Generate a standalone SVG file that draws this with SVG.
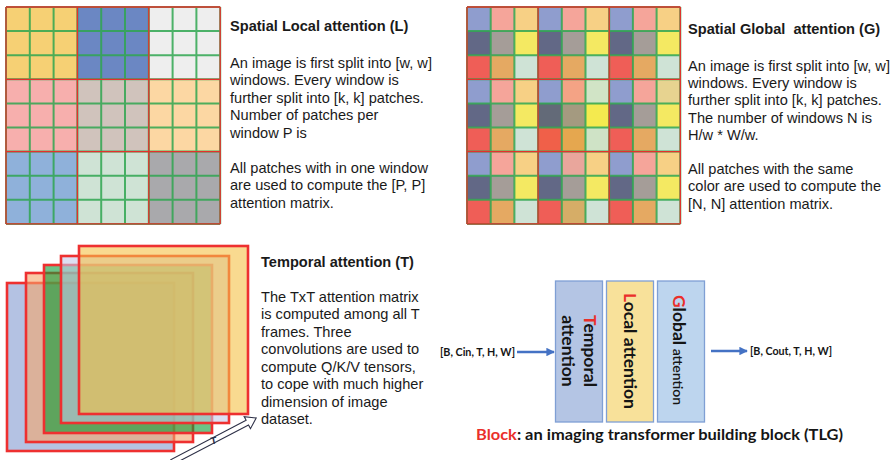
<svg xmlns="http://www.w3.org/2000/svg" xmlns:xlink="http://www.w3.org/1999/xlink" width="890" height="460" viewBox="0 0 890 460">
  <style>
    .t{font-family:"Liberation Sans",Arial,sans-serif;font-size:14.6px;fill:#1a1a1a}
    .h{font-weight:bold}
    .c{font-family:Lato,"Liberation Sans",sans-serif;font-weight:bold;fill:#151515}
    .red{fill:#ea2f2a}
    .cell{stroke:#2fa650;stroke-opacity:.85;stroke-width:2;fill:none}
    .win{stroke:#e4302c;stroke-width:1.3;fill:none}
    .frame{stroke:#ee3030;stroke-width:2.6}
    .box{stroke:#7f9fd4;stroke-width:1.3}
    .flow{stroke:#4472c4;stroke-width:2.5;fill:none}
  </style>
  <defs>
    <marker id="head" viewBox="0 0 10 10" refX="9" refY="5" markerWidth="3.4" markerHeight="3.4" orient="auto" markerUnits="strokeWidth">
      <path d="M0 0L10 5L0 10z" fill="#4472c4"/>
    </marker>
    <!-- one 3x3 window of the global grid, colour per patch position -->
    <g id="tile">
      <rect x="0" y="0" width="1" height="1" fill="#8f9dce"/>
      <rect x="1" y="0" width="1" height="1" fill="#f5a59a"/>
      <rect x="2" y="0" width="1" height="1" fill="#f7d085"/>
      <rect x="0" y="1" width="1" height="1" fill="#626886"/>
      <rect x="1" y="1" width="1" height="1" fill="#a59d98"/>
      <rect x="2" y="1" width="1" height="1" fill="#f4e962"/>
      <rect x="0" y="2" width="1" height="1" fill="#ef5e57"/>
      <rect x="1" y="2" width="1" height="1" fill="#e5a962"/>
      <rect x="2" y="2" width="1" height="1" fill="#cfe3d6"/>
    </g>
  </defs>

  <!-- spatial local attention grid -->
  <g id="local-grid">
    <g transform="translate(6,7) scale(23.8,24.1)">
      <rect x="0" y="0" width="3" height="3" fill="#f6d074"/>
      <rect x="3" y="0" width="3" height="3" fill="#6b87c3"/>
      <rect x="6" y="0" width="3" height="3" fill="#eeeeee"/>
      <rect x="0" y="3" width="3" height="3" fill="#f7afad"/>
      <rect x="3" y="3" width="3" height="3" fill="#d0c3bc"/>
      <rect x="6" y="3" width="3" height="3" fill="#fcd7a3"/>
      <rect x="0" y="6" width="3" height="3" fill="#8fb1da"/>
      <rect x="3" y="6" width="3" height="3" fill="#cfe3d5"/>
      <rect x="6" y="6" width="3" height="3" fill="#a9a9ac"/>
    </g>
    <path class="cell" d="M6 7H220.2M6 31.1H220.2M6 55.2H220.2M6 79.3H220.2M6 103.4H220.2M6 127.5H220.2M6 151.6H220.2M6 175.7H220.2M6 199.8H220.2M6 223.9H220.2M6 7V223.9M29.8 7V223.9M53.6 7V223.9M77.4 7V223.9M101.2 7V223.9M125 7V223.9M148.8 7V223.9M172.6 7V223.9M196.4 7V223.9M220.2 7V223.9"/>
    <path class="win" d="M6 7H220.2M6 79.3H220.2M6 151.6H220.2M6 223.9H220.2M6 7V223.9M77.4 7V223.9M148.8 7V223.9M220.2 7V223.9"/>
  </g>

  <g id="local-text" class="t">
    <text x="230" y="31" class="h">Spatial Local attention (L)</text>
    <text x="230" y="67.5">An image is first split into [w, w]</text>
    <text x="230" y="85">windows. Every window is</text>
    <text x="230" y="102.5">further split into [k, k] patches.</text>
    <text x="230" y="120">Number of patches per</text>
    <text x="230" y="137.5">window P is</text>
    <text x="230" y="172.5">All patches with in one window</text>
    <text x="230" y="190">are used to compute the [P, P]</text>
    <text x="230" y="207.5">attention matrix.</text>
  </g>

  <!-- spatial global attention grid -->
  <g id="global-grid">
    <g transform="translate(467,7) scale(23.7,24.1)">
      <use xlink:href="#tile"/>
      <use xlink:href="#tile" x="3"/>
      <use xlink:href="#tile" x="6"/>
      <use xlink:href="#tile" y="3"/>
      <use xlink:href="#tile" x="3" y="3"/>
      <use xlink:href="#tile" x="6" y="3"/>
      <use xlink:href="#tile" y="6"/>
      <use xlink:href="#tile" x="3" y="6"/>
      <use xlink:href="#tile" x="6" y="6"/>
      <rect x="4" y="3" width="1" height="1" fill="#f4a385"/>
      <rect x="5" y="3" width="1" height="1" fill="#d1e4c6"/>
      <rect x="3" y="4" width="1" height="1" fill="#636a78"/>
      <rect x="4" y="4" width="1" height="1" fill="#a49a80"/>
      <rect x="5" y="4" width="1" height="1" fill="#f4ea4f"/>
      <rect x="3" y="5" width="1" height="1" fill="#f06049"/>
      <rect x="4" y="5" width="1" height="1" fill="#e5a74f"/>
      <rect x="5" y="5" width="1" height="1" fill="#cfe3c6"/>
      <rect x="8" y="3" width="1" height="1" fill="#e7d390"/>
      <rect x="4" y="6" width="1" height="1" fill="#e9a69c"/>
      <rect x="4" y="8" width="1" height="1" fill="#d6ad67"/>
    </g>
    <path class="cell" d="M467 7H680.3M467 31.1H680.3M467 55.2H680.3M467 79.3H680.3M467 103.4H680.3M467 127.5H680.3M467 151.6H680.3M467 175.7H680.3M467 199.8H680.3M467 223.9H680.3M467 7V223.9M490.7 7V223.9M514.4 7V223.9M538.1 7V223.9M561.8 7V223.9M585.5 7V223.9M609.2 7V223.9M632.9 7V223.9M656.6 7V223.9M680.3 7V223.9"/>
    <path class="win" d="M467 7H680.3M467 79.3H680.3M467 151.6H680.3M467 223.9H680.3M467 7V223.9M538.1 7V223.9M609.2 7V223.9M680.3 7V223.9"/>
  </g>

  <g id="global-text" class="t">
    <text x="688" y="34" class="h" xml:space="preserve">Spatial Global  attention (G)</text>
    <text x="688" y="71">An image is first split into [w, w]</text>
    <text x="688" y="88.2">windows. Every window is</text>
    <text x="688" y="105.4">further split into [k, k] patches.</text>
    <text x="688" y="122.6">The number of windows N is</text>
    <text x="688" y="139.8">H/w * W/w.</text>
    <text x="688" y="174.2">All patches with the same</text>
    <text x="688" y="191.4">color are used to compute the</text>
    <text x="688" y="208.6">[N, N] attention matrix.</text>
  </g>

  <!-- stack of T frames -->
  <g id="frames" class="frame">
    <rect x="7" y="283" width="167" height="168" fill="#b4c2e3"/>
    <rect x="26" y="273" width="167" height="169" fill="rgb(245,165,105)" fill-opacity=".6"/>
    <rect x="44" y="265" width="168" height="168" fill="rgb(10,155,53)" fill-opacity=".6"/>
    <rect x="61" y="256" width="168" height="167" fill="rgb(197,202,233)" fill-opacity=".6"/>
    <rect x="79" y="246" width="169" height="168" fill="rgb(245,193,70)" fill-opacity=".6"/>
  </g>
  <g id="time-axis">
    <polygon transform="translate(172,462) rotate(-27.6)" points="0,-2.6 85,-2.6 85,-6.8 95,0 85,6.8 85,2.6 0,2.6" fill="#fff" stroke="#2d3047" stroke-width="1.1"/>
    <text x="213.5" y="444" transform="rotate(-10 213.5 440)" text-anchor="middle" font-family="Liberation Sans,Arial,sans-serif" font-size="10" font-weight="bold" fill="#2d3047">T</text>
  </g>

  <g id="temporal-text" class="t">
    <text x="261" y="266.5" class="h">Temporal attention (T)</text>
    <text x="261" y="301.5">The TxT attention matrix</text>
    <text x="261" y="319">is computed among all T</text>
    <text x="261" y="336.5">frames. Three</text>
    <text x="261" y="354">convolutions are used to</text>
    <text x="261" y="371.5">compute Q/K/V tensors,</text>
    <text x="261" y="389">to cope with much higher</text>
    <text x="261" y="406.5">dimension of image</text>
    <text x="261" y="424">dataset.</text>
  </g>

  <!-- TLG block -->
  <g id="block-temporal">
    <rect class="box" x="555.5" y="281" width="47" height="141" fill="#b4c5e4"/>
    <text class="c" font-size="17.5" text-anchor="middle" transform="translate(584,351) rotate(90)"><tspan class="red">T</tspan>emporal</text>
    <text class="c" font-size="17.5" text-anchor="middle" transform="translate(562,351) rotate(90)">attention</text>
  </g>
  <g id="block-local">
    <rect class="box" x="606.5" y="281" width="47" height="141" fill="#f8e19a"/>
    <text class="c" font-size="17.5" text-anchor="middle" transform="translate(623.5,351) rotate(90)"><tspan class="red">L</tspan>ocal attention</text>
  </g>
  <g id="block-global">
    <rect class="box" x="657.5" y="281" width="47" height="141" fill="#bdd5ee"/>
    <text class="c" font-size="17.5" text-anchor="middle" transform="translate(673,350) rotate(90)"><tspan class="red">G</tspan>lobal<tspan font-size="14" font-weight="600"> attention</tspan></text>
  </g>

  <g id="io-labels" class="c">
    <text x="440" y="355.5" font-size="11" textLength="75" lengthAdjust="spacingAndGlyphs">[B, Cin, T, H, W]</text>
    <text x="750" y="355" font-size="11" textLength="82" lengthAdjust="spacingAndGlyphs">[B, Cout, T, H, W]</text>
  </g>

  <g id="connectors">
    <line class="flow" x1="517" y1="352" x2="554" y2="352" marker-end="url(#head)"/>
    <line class="flow" x1="711" y1="351" x2="747" y2="351" marker-end="url(#head)"/>
  </g>

  <text id="caption" class="c" x="476" y="440" font-size="15" textLength="367" lengthAdjust="spacingAndGlyphs"><tspan class="red">Block</tspan>: an imaging transformer building block (TLG)</text>
</svg>
